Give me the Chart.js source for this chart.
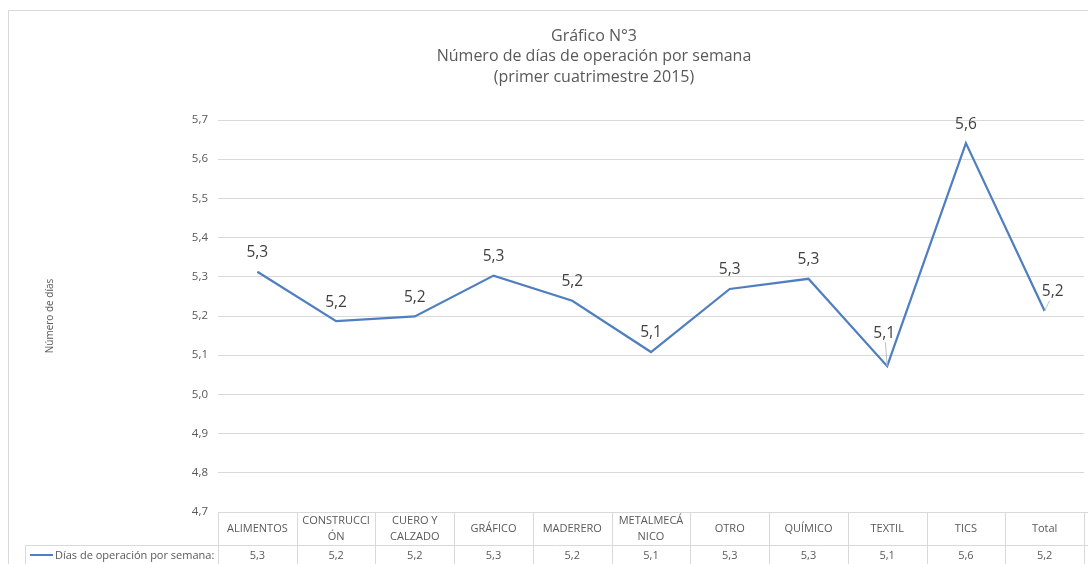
<!DOCTYPE html>
<html>
<head>
<meta charset="utf-8">
<script src="https://cdn.jsdelivr.net/npm/chart.js@4"></script>
<style>
  html, body { margin: 0; padding: 0; background: #fff; }
  #wrap { width: 1088px; height: 564px; }
</style>
</head>
<body>
<div id="wrap"><canvas id="dias"></canvas></div>
<script>
// datos
const categorias = [['ALIMENTOS'], ['CONSTRUCCI', 'ÓN'], ['CUERO Y', 'CALZADO'], ['GRÁFICO'], ['MADERERO'],
  ['METALMECÁ', 'NICO'], ['OTRO'], ['QUÍMICO'], ['TEXTIL'], ['TICS'], ['Total']];
const diasOperacion = [5.313, 5.187, 5.199, 5.303, 5.239, 5.108, 5.269, 5.295, 5.072, 5.641, 5.213];
const serieNombre = 'Días de operación por semana';
const titulo = ['Gráfico N°3', 'Número de días de operación por semana', '(primer cuatrimestre 2015)'];
const ejeY = 'Número de días';
const yMin = 4.7, yMax = 5.7, yPaso = 0.1;

const FONT = '"Open Sans", sans-serif';
const GRIS = '#595959';
const LINEA = '#d9d9d9';
const AZUL = '#4f7fc0';
const coma = v => v.toFixed(1).replace('.', ',');

// fondo, titulo, etiquetas y tabla de datos
const tablaPlugin = {
  id: 'tabla',
  beforeDraw(chart) {
    const c = chart.ctx;
    c.save();
    c.fillStyle = '#fff';
    c.fillRect(0, 0, chart.width, chart.height);
    c.strokeStyle = LINEA;
    c.lineWidth = 1;
    c.strokeRect(8.5, 10.5, chart.width, chart.height);
    c.fillStyle = GRIS;
    c.font = '16px ' + FONT;
    c.textAlign = 'center';
    c.textBaseline = 'middle';
    titulo.forEach((t, i) => c.fillText(t, 594, 36 + i * 20.5));
    c.restore();
  },
  afterDatasetsDraw(chart) {
    const c = chart.ctx;
    const pts = chart.getDatasetMeta(0).data;
    c.save();
    c.font = '15.5px ' + FONT;
    c.fillStyle = '#404040';
    c.textAlign = 'center';
    c.textBaseline = 'middle';
    pts.forEach((p, i) => {
      let dx = 0, dy = -19;
      if (i === 8) { dx = -3; dy = -33; }
      if (i === 10) { dx = 8; dy = -19; }
      if (i === 8 || i === 10) {
        c.strokeStyle = '#bfbfbf';
        c.lineWidth = 1;
        c.beginPath();
        c.moveTo(p.x + dx * 0.6, p.y + dy + 9);
        c.lineTo(p.x, p.y);
        c.stroke();
      }
      c.fillText(coma(diasOperacion[i]), p.x + dx, p.y + dy);
    });
    c.restore();
  },
  afterDraw(chart) {
    const c = chart.ctx, a = chart.chartArea, x = chart.scales.x;
    const n = categorias.length;
    const ancho = (a.right - a.left) / n;
    const top = a.bottom, mid = a.bottom + 33, bot = chart.height;
    c.save();
    c.strokeStyle = LINEA;
    c.lineWidth = 1;
    c.beginPath();
    c.moveTo(a.left, Math.round(top) + 0.5); c.lineTo(chart.width, Math.round(top) + 0.5);
    c.moveTo(25, Math.round(mid) + 0.5); c.lineTo(chart.width, Math.round(mid) + 0.5);
    c.moveTo(25.5, mid); c.lineTo(25.5, bot);
    for (let i = 0; i <= n; i++) {
      const xx = Math.round(x.getPixelForValue(i) - ancho / 2) + 0.5;
      c.moveTo(xx, top); c.lineTo(xx, bot);
    }
    c.stroke();

    c.fillStyle = GRIS;
    c.font = '11px ' + FONT;
    c.textAlign = 'center';
    c.textBaseline = 'middle';
    categorias.forEach((lab, i) => {
      const cx = x.getPixelForValue(i);
      const cy = (top + mid) / 2;
      lab.forEach((l, j) => c.fillText(l, cx, cy + (j - (lab.length - 1) / 2) * 16));
      c.fillText(coma(diasOperacion[i]), cx, (mid + bot) / 2 + 1);
    });

    // leyenda de la serie
    c.strokeStyle = AZUL;
    c.lineWidth = 2;
    c.beginPath();
    c.moveTo(30, (mid + bot) / 2 + 0.5);
    c.lineTo(53, (mid + bot) / 2 + 0.5);
    c.stroke();
    c.textAlign = 'left';
    c.fillText(serieNombre + ':', 55, (mid + bot) / 2 + 1);
    c.restore();
  }
};

new Chart(document.getElementById('dias'), {
  type: 'line',
  data: {
    labels: categorias,
    datasets: [{
      label: serieNombre,
      data: diasOperacion,
      borderColor: AZUL,
      borderWidth: 2.25,
      pointRadius: 0,
      tension: 0,
      fill: false
    }]
  },
  options: {
    responsive: true,
    maintainAspectRatio: false,
    animation: false,
    layout: { padding: { left: 40, top: 120, right: 4, bottom: 0 } },
    plugins: {
      legend: { display: false },
      title: { display: false },
      tooltip: { enabled: false }
    },
    scales: {
      x: {
        offset: true,
        ticks: { display: false },
        grid: { display: false },
        border: { display: false },
        afterFit: s => { s.height = 52; }
      },
      y: {
        min: yMin,
        max: yMax,
        ticks: {
          stepSize: yPaso,
          color: GRIS,
          font: { family: FONT, size: 11.5 },
          padding: 10,
          callback: v => coma(v)
        },
        grid: { color: LINEA, drawTicks: false },
        border: { display: false },
        title: { display: true, text: ejeY, color: GRIS, font: { family: FONT, size: 10 }, padding: 4 },
        afterFit: s => { s.width = 178; }
      }
    }
  },
  plugins: [tablaPlugin]
});
</script>
</body>
</html>
